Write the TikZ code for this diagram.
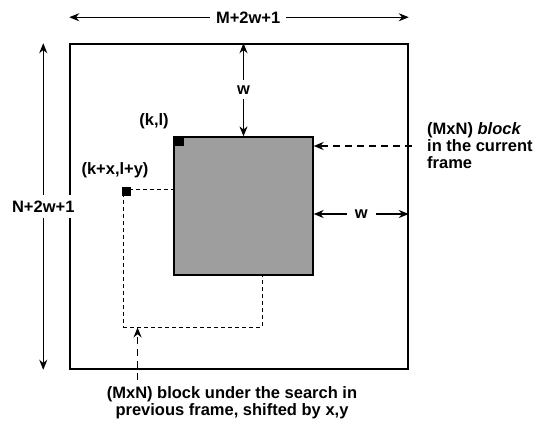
\documentclass[tikz,border=0pt]{standalone}
\usepackage{fontspec}
\setmainfont{Liberation Sans}
\usetikzlibrary{arrows.meta}

\begin{document}
\begin{tikzpicture}[x=1pt, y=-1pt, >={Stealth[length=10pt,width=8pt]},
  lbl/.style={font=\bfseries\fontsize{16.5}{17}\selectfont, inner sep=1pt},
  framebox/.style={draw, line width=1.5pt, inner sep=0pt},
  blockbox/.style={draw, fill=black!38, line width=1.3pt, inner sep=0pt},
  shiftbox/.style={draw, dashed, dash pattern=on 4pt off 3pt, line width=0.9pt, inner sep=0pt},
  pix/.style={fill=black, minimum size=9pt, inner sep=0pt},
  dimarrow/.style={<->, line width=1.1pt},
  dasharrow/.style={->, line width=1.3pt, dash pattern=on 7pt off 5pt}]
\useasboundingbox (0,0) rectangle (543,422);

% --- Frame and blocks ---
\node[framebox, minimum width=338pt, minimum height=325pt] (frame) at (239,206.5) {};
\node[shiftbox, minimum width=139pt, minimum height=138pt] (prev) at (192.5,258) {};
\node[blockbox, minimum width=139pt, minimum height=138pt] (cur) at (243.5,206) {};

% --- Corner pixels ---
\node[pix, anchor=north west] (kl) at ([xshift=1pt]cur.north west) {};
\node[pix] (klxy) at ([xshift=4pt, yshift=-3pt]prev.north west) {};

% --- Outer dimensions ---
\draw[dimarrow] ([yshift=26pt]frame.north west) -- ([yshift=26pt]frame.north east)
  node[lbl, pos=0.527, fill=white, inner xsep=6pt] (mlbl) {M+2w+1};
\draw[dimarrow] ([xshift=-26pt]frame.north west) -- ([xshift=-26pt]frame.south west)
  node[lbl, midway, fill=white, inner ysep=6pt] (nlbl) {N+2w+1};

% --- Search range w ---
\draw[dimarrow] (cur.north |- frame.north) -- (cur.north)
  node[lbl, midway, fill=white, inner ysep=5pt] (wtop) {w};
\draw[dimarrow] ([yshift=-8pt]cur.east) -- ([yshift=-8pt]cur.east -| frame.east)
  node[lbl, midway, fill=white, inner xsep=8pt] (wright) {w};

% --- Labels ---
\node[lbl] (kllbl) at (154,121) {(k,l)};
\node[lbl] (klxylbl) at (115,170) {(k+x,l+y)};
\node[lbl, align=left, anchor=west] (curlbl) at (426,146)
  {(MxN) \textit{block}\\in the current\\frame};
\node[lbl, align=center] (prevlbl) at (232,403)
  {(MxN) block under the search in\\previous frame, shifted by x,y};

% --- Pointers ---
\draw[dasharrow] ([xshift=3pt]frame.east |- curlbl.west) -- (cur.east |- curlbl.west);
\draw[dasharrow] ([xshift=15pt, yshift=-53pt]prev.south west) -- ([xshift=15pt]prev.south west);

\end{tikzpicture}
\end{document}
